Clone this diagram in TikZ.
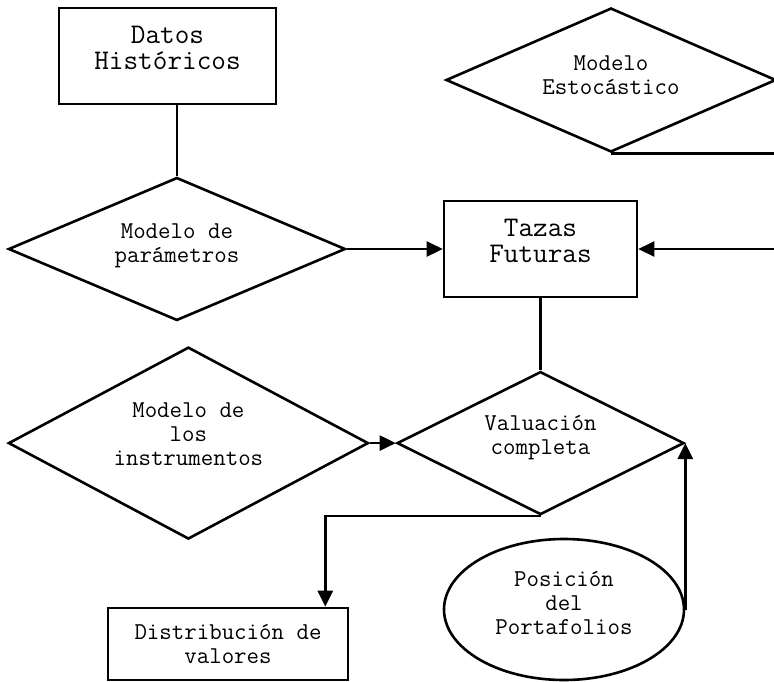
\documentclass[tikz,border=0pt]{standalone}
\usepackage{fontspec}
\usetikzlibrary{shapes.geometric, positioning, arrows.meta}

\tikzset{
  caja/.style={rectangle, draw, align=center, inner sep=0pt},
  rombo/.style={diamond, aspect=2.5, draw, align=center, inner sep=0pt},
  grande/.style={font=\ttfamily\fontsize{28.4}{26}\selectfont},
  sube/.style={text depth=#1},
}

\begin{document}
\begin{tikzpicture}[x=1pt, y=-1pt, line width=2.6pt, >={Triangle[length=16pt,width=15pt]},
    font=\ttfamily\fontsize{24.2}{24}\selectfont]
    \useasboundingbox (0,0) rectangle (774,681);

    \node[caja, grande, sube=16pt, minimum width=217pt, minimum height=96pt] (datos) at (167.5,56) {Datos\\Históricos};
    \node[caja, grande, sube=16pt, minimum width=193pt, minimum height=96pt] (tazas) at (540.5,249) {Tazas\\Futuras};
    \node[rombo, sube=11pt, minimum width=337pt, minimum height=143pt] (param) [left=96pt of tazas] {Modelo de\\parámetros};
    \node[rombo, sube=10pt, minimum width=330pt, minimum height=144pt] (estoc) at (611,80) {Modelo\\Estocástico};
    \node[rombo, sube=17pt, minimum width=287pt, minimum height=143pt] (valua) [below=72pt of tazas] {Valuación\\completa};
    \node[rombo, sube=18pt, minimum width=360pt, minimum height=192pt] (instr) [left=26pt of valua] {Modelo de\\los\\instrumentos};
    \node[caja, minimum width=240pt, minimum height=72pt] (distrib) at (228,644) {Distribución de\\valores};
    \node[ellipse, draw, align=center, inner sep=0pt, sube=14pt, minimum width=240pt, minimum height=141pt] (posic) at (564,609.5) {Posición\\del\\Portafolios};

    \coordinate (derecha) at (774,0);
    \coordinate (borde) at (774,249);

    \draw (param.north) -- (param.north |- datos.south);
    \draw[->] (param.east) -- (tazas.west);
    \draw (estoc.south) -- (estoc.south -| derecha);
    \draw[->] (borde) -- (tazas.east);
    \draw (tazas.south) -- (valua.north);
    \draw[->] (instr.east) -- (valua.west);
    \draw[->] (valua.south) -| ([xshift=-24pt]distrib.north east);
    \draw[->] (posic.east) -- (valua.east);
\end{tikzpicture}
\end{document}
